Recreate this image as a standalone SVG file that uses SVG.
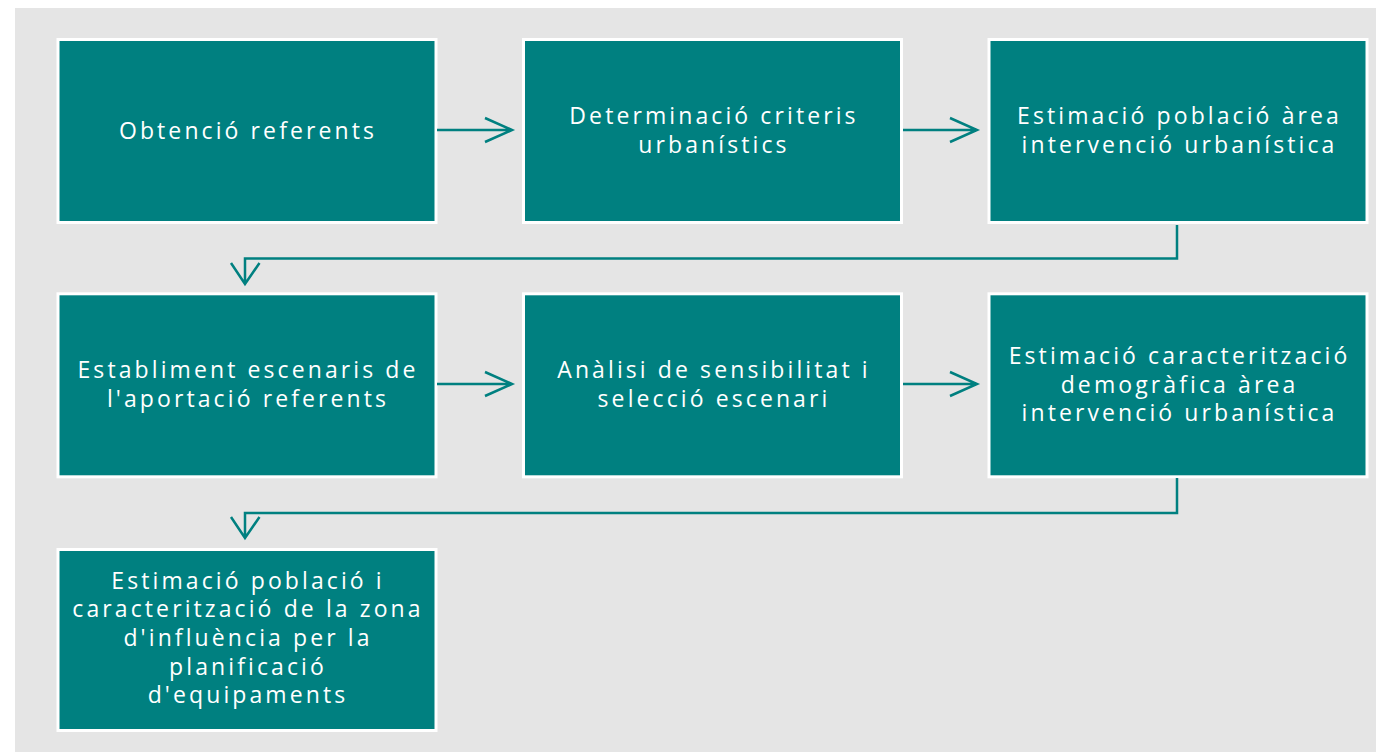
<svg xmlns="http://www.w3.org/2000/svg" width="1376" height="752" viewBox="0 0 1376 752">
<defs>
<style>
.box{fill:#008080;stroke:#ffffff;stroke-width:3}
.t{fill:#ffffff;font-family:"Open Sans","Noto Sans",sans-serif;font-size:23px;letter-spacing:3.1px;text-anchor:middle}
.c{fill:none;stroke:#008080;stroke-width:2.5}
</style>
</defs>
<rect x="0" y="0" width="1376" height="752" fill="#ffffff"/>
<rect x="15" y="8" width="1361" height="744" fill="#e5e5e5"/>
<g id="n1"><rect class="box" x="58" y="39.5" width="378" height="183"/>
<text class="t" x="248" y="138.6">Obtenció referents</text></g>
<g id="n2"><rect class="box" x="523.5" y="39.5" width="378" height="183"/>
<text class="t" x="714" y="124.3">Determinació criteris</text>
<text class="t" x="714" y="152.9">urbanístics</text></g>
<g id="n3"><rect class="box" x="989" y="39.5" width="378" height="183"/>
<text class="t" x="1179.5" y="124.3">Estimació població àrea</text>
<text class="t" x="1179.5" y="152.9">intervenció urbanística</text></g>
<g id="n4"><rect class="box" x="58" y="293.8" width="378" height="183"/>
<text class="t" x="248" y="378.3">Establiment escenaris de</text>
<text class="t" x="248" y="406.9">l'aportació referents</text></g>
<g id="n5"><rect class="box" x="523.5" y="293.8" width="378" height="183"/>
<text class="t" x="714" y="378.3">Anàlisi de sensibilitat i</text>
<text class="t" x="714" y="406.9">selecció escenari</text></g>
<g id="n6"><rect class="box" x="989" y="293.8" width="378" height="183"/>
<text class="t" x="1179.5" y="364">Estimació caracterització</text>
<text class="t" x="1179.5" y="392.6">demogràfica àrea</text>
<text class="t" x="1179.5" y="421.2">intervenció urbanística</text></g>
<g id="n7"><rect class="box" x="58" y="549.5" width="378" height="181"/>
<text class="t" x="248" y="588.6">Estimació població i</text>
<text class="t" x="248" y="617.3">caracterització de la zona</text>
<text class="t" x="248" y="645.9">d'influència per la</text>
<text class="t" x="248" y="674.5">planificació</text>
<text class="t" x="248" y="703.1">d'equipaments</text></g>
<g id="connectors">
<path class="c" d="M437,130 H511 M485,118 L512,130 L485,142"/>
<path class="c" d="M903,130 H976 M950,118 L977,130 L950,142"/>
<path class="c" d="M437,384 H511 M485,372 L512,384 L485,396"/>
<path class="c" d="M903,384 H976 M950,372 L977,384 L950,396"/>
<path class="c" d="M1177,225 V258.5 H245 V283 M231,263 L245,284 L259.5,263"/>
<path class="c" d="M1177,478 V513 H245 V537 M231,517 L245,538 L259.5,517"/>
</g>
</svg>
